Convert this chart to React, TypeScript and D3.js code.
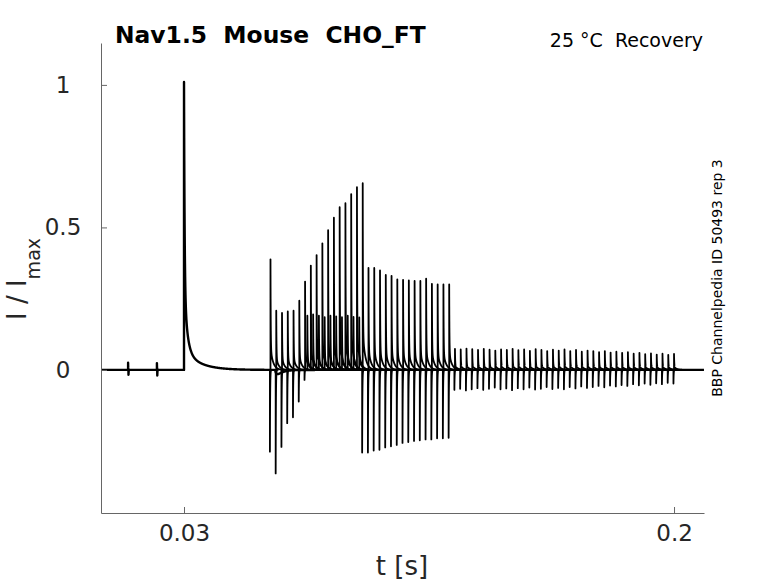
import React, { useEffect, useRef } from 'react';
import * as d3 from 'd3';

const W = 778;
const H = 583;
const xDomain = [0.0012, 0.2104];
const yDomain = [-0.502, 1.147];
const xTicks = [0.03, 0.2];
const yTicks = [0, 0.5, 1];

// conditioning pulse peak
const condTimes = [0.03];
const condPeaks = [1.01];

// small biphasic blips before the conditioning pulse
const blipTimes = [0.0106, 0.0206];
const blipAmps = [0.025, 0.024];

// test pulse peaks (recovery)
const testTimes = [
  0.060, 0.062, 0.064, 0.066, 0.068, 0.070, 0.072, 0.074, 0.076, 0.078,
  0.080, 0.082, 0.084, 0.086, 0.088, 0.090, 0.092, 0.094, 0.096, 0.098,
  0.100, 0.102, 0.104, 0.106, 0.108, 0.110, 0.112, 0.114, 0.116, 0.118,
  0.120, 0.122, 0.124, 0.126, 0.128, 0.130, 0.132, 0.134, 0.136, 0.138,
  0.140, 0.142, 0.144, 0.146, 0.148, 0.150, 0.152, 0.154, 0.156, 0.158,
  0.160, 0.162, 0.164, 0.166, 0.168, 0.170, 0.172, 0.174, 0.176, 0.178,
  0.180, 0.182, 0.184, 0.186, 0.188, 0.190, 0.192, 0.194, 0.196, 0.198,
  0.200,
];
const testPeaks = [
  0.388, 0.208, 0.200, 0.205, 0.208, 0.243, 0.310, 0.366, 0.403, 0.444,
  0.490, 0.534, 0.571, 0.585, 0.617, 0.641, 0.655, 0.358, 0.358, 0.349,
  0.333, 0.330, 0.318, 0.316, 0.314, 0.312, 0.312, 0.320, 0.302, 0.300,
  0.300, 0.300, 0.074, 0.072, 0.075, 0.073, 0.070, 0.074, 0.071, 0.068,
  0.072, 0.070, 0.074, 0.069, 0.072, 0.067, 0.073, 0.070, 0.066, 0.071,
  0.068, 0.072, 0.066, 0.070, 0.064, 0.068, 0.066, 0.062, 0.066, 0.061,
  0.064, 0.060, 0.062, 0.057, 0.060, 0.055, 0.058, 0.054, 0.057, 0.053,
  0.056,
];

// secondary smaller peaks between the growing ones
const echoTimes = [0.0728, 0.0748, 0.0768, 0.0788, 0.0808, 0.0828, 0.0848, 0.0868, 0.0888, 0.0908];
const echoPeaks = [0.19, 0.195, 0.19, 0.185, 0.19, 0.188, 0.185, 0.19, 0.186, 0.184];

// negative transients
const dipTimes = [
  0.0598, 0.0618, 0.0638, 0.0658, 0.0678, 0.0698, 0.0718,
  0.0918, 0.0938, 0.0958, 0.0978, 0.0998, 0.1018, 0.1038, 0.1058, 0.1078, 0.1098,
  0.1118, 0.1138, 0.1158, 0.1178, 0.1198, 0.1218,
  0.1238, 0.1258, 0.1278, 0.1298, 0.1318, 0.1338, 0.1358, 0.1378, 0.1398, 0.1418,
  0.1438, 0.1458, 0.1478, 0.1498, 0.1518, 0.1538, 0.1558, 0.1578, 0.1598, 0.1618,
  0.1638, 0.1658, 0.1678, 0.1698, 0.1718, 0.1738, 0.1758, 0.1778, 0.1798, 0.1818,
  0.1838, 0.1858, 0.1878, 0.1898, 0.1918, 0.1938, 0.1958, 0.1978, 0.1998,
];
const dipAmps = [
  -0.287, -0.363, -0.270, -0.187, -0.166, -0.111, -0.035,
  -0.290, -0.290, -0.283, -0.280, -0.272, -0.268, -0.263, -0.256, -0.253, -0.249,
  -0.247, -0.244, -0.244, -0.240, -0.240, -0.238,
  -0.070, -0.066, -0.072, -0.068, -0.064, -0.070, -0.066, -0.062, -0.068, -0.065,
  -0.071, -0.064, -0.068, -0.062, -0.069, -0.066, -0.060, -0.067, -0.063, -0.068,
  -0.060, -0.065, -0.058, -0.063, -0.060, -0.056, -0.061, -0.055, -0.058, -0.053,
  -0.056, -0.050, -0.054, -0.048, -0.052, -0.047, -0.050, -0.045, -0.048,
];

// slow undershoot right after the conditioning step ends
const hookTimes = [0.0616];
const hookAmps = [-0.03];

type Kind = 'cond' | 'test' | 'dip' | 'hook' | 'blip';
type Ev = { t: number; a: number; k: Kind };

function kernel(e: Ev, dt: number): number {
  if (dt < 0) return 0;
  switch (e.k) {
    case 'cond':
      return e.a * (0.69 * Math.exp(-dt / 0.0002) + 0.24 * Math.exp(-dt / 0.001) + 0.07 * Math.exp(-dt / 0.0052));
    case 'test':
      return e.a * (0.8 * Math.exp(-dt / 0.00008) + 0.2 * Math.exp(-dt / 0.0009));
    case 'dip':
      return e.a * Math.exp(-dt / 0.00008);
    case 'blip':
      return dt < 0.00012 ? e.a * Math.exp(-dt / 0.00004) : -e.a * Math.exp(-(dt - 0.00012) / 0.00005);
    case 'hook': {
      const rise = 1 - Math.exp(-dt / 0.0006);
      return e.a * rise * Math.exp(-dt / 0.002);
    }
  }
  return 0;
}

const STEP = 0.00003;

// a full sweep: baseline + conditioning + blips + hook
function buildBaseline(): [number, number][] {
  const ev: Ev[] = [];
  condTimes.forEach((t, i) => ev.push({ t, a: condPeaks[i], k: 'cond' }));
  blipTimes.forEach((t, i) => ev.push({ t, a: blipAmps[i], k: 'blip' }));
  hookTimes.forEach((t, i) => ev.push({ t, a: hookAmps[i], k: 'hook' }));
  const ts: number[] = [];
  for (let t = xDomain[0]; t <= xDomain[1]; t += STEP) ts.push(t);
  ev.forEach((e) => {
    ts.push(e.t - 1e-7);
    ts.push(e.t);
  });
  ts.sort((a, b) => a - b);
  return ts.map((t) => {
    let v = 0;
    for (const e of ev) v += kernel(e, t - e.t);
    return [t, v] as [number, number];
  });
}

// one transient drawn on its own, returning to baseline
function buildTransient(e: Ev, win: number): [number, number][] {
  const pts: [number, number][] = [[e.t - STEP * 2, 0], [e.t - 1e-7, 0]];
  for (let dt = 0; dt <= win; dt += STEP / 2) pts.push([e.t + dt, kernel(e, dt)]);
  return pts;
}

const M = { left: 101, right: 704, top: 43, bottom: 513 };

export default function App() {
  const xAxisRef = useRef<SVGGElement>(null);
  const yAxisRef = useRef<SVGGElement>(null);

  const x = d3.scaleLinear().domain(xDomain).range([M.left, M.right]);
  const y = d3.scaleLinear().domain(yDomain).range([M.bottom, M.top]);

  const baseline = React.useMemo(buildBaseline, []);
  const transients = React.useMemo(() => {
    const out: [number, number][][] = [];
    testTimes.forEach((t, i) => out.push(buildTransient({ t, a: testPeaks[i], k: 'test' }, 0.006)));
    echoTimes.forEach((t, i) => out.push(buildTransient({ t, a: echoPeaks[i], k: 'test' }, 0.006)));
    dipTimes.forEach((t, i) => out.push(buildTransient({ t, a: dipAmps[i], k: 'dip' }, 0.001)));
    return out;
  }, []);

  const line = d3
    .line<[number, number]>()
    .x((d) => x(d[0]))
    .y((d) => y(d[1]));

  useEffect(() => {
    const gx = d3.select(xAxisRef.current!);
    gx.call(
      d3
        .axisBottom(x)
        .tickValues(xTicks)
        .tickFormat((d) => String(d))
        .tickSizeInner(-6)
        .tickSizeOuter(0)
        .tickPadding(12)
    );
    gx.select('.domain').attr('stroke', '#666').attr('stroke-width', 1);
    gx.selectAll('.tick line').attr('stroke', '#666');
    gx.selectAll('.tick text')
      .attr('fill', '#262626')
      .attr('font-size', 23)
      .attr('font-family', 'DejaVu Sans');

    const gy = d3.select(yAxisRef.current!);
    gy.call(
      d3
        .axisLeft(y)
        .tickValues(yTicks)
        .tickFormat((d) => String(d))
        .tickSizeInner(-6)
        .tickSizeOuter(0)
    );
    gy.select('.domain').attr('stroke', '#666').attr('stroke-width', 1);
    gy.selectAll('.tick line').attr('stroke', '#666');
    gy.selectAll('.tick text')
      .attr('fill', '#262626')
      .attr('font-size', 23)
      .attr('font-family', 'DejaVu Sans')
      .attr('text-anchor', 'middle')
      .attr('x', -38);
  }, []);

  return (
    <svg
      width={W}
      height={H}
      style={{ position: 'absolute', left: 0, top: 0, background: '#fff' }}
      fontFamily="DejaVu Sans"
    >
      <rect width={W} height={H} fill="#fff" />
      <g fill="none" stroke="#000" strokeWidth={1.8} strokeLinejoin="round">
        <path d={line(baseline) || ''} strokeWidth={2.4} />
        {transients.map((tr, i) => (
          <path key={i} d={line(tr) || ''} />
        ))}
      </g>
      <g ref={xAxisRef} transform={`translate(0,${M.bottom})`} />
      <g ref={yAxisRef} transform={`translate(${M.left},0)`} />
      <text x={115} y={43} fontSize={23.4} fontWeight="bold" fill="#000" style={{ whiteSpace: 'pre' }}>
        {'Nav1.5  Mouse  CHO_FT'}
      </text>
      <text x={703} y={47} fontSize={19} textAnchor="end" fill="#000" style={{ whiteSpace: 'pre' }}>
        {'25 °C  Recovery'}
      </text>
      <text
        transform="translate(722,278) rotate(-90)"
        fontSize={14}
        textAnchor="middle"
        fill="#000"
      >
        BBP Channelpedia ID 50493 rep 3
      </text>
      <text transform="translate(26,320) rotate(-90)" fontSize={26} fill="#262626" style={{ whiteSpace: 'pre' }}>
        {'I / I'}
        <tspan fontSize={19} dy={14}>max</tspan>
      </text>
      <text x={402} y={575} fontSize={26} textAnchor="middle" fill="#262626">
        t [s]
      </text>
    </svg>
  );
}
